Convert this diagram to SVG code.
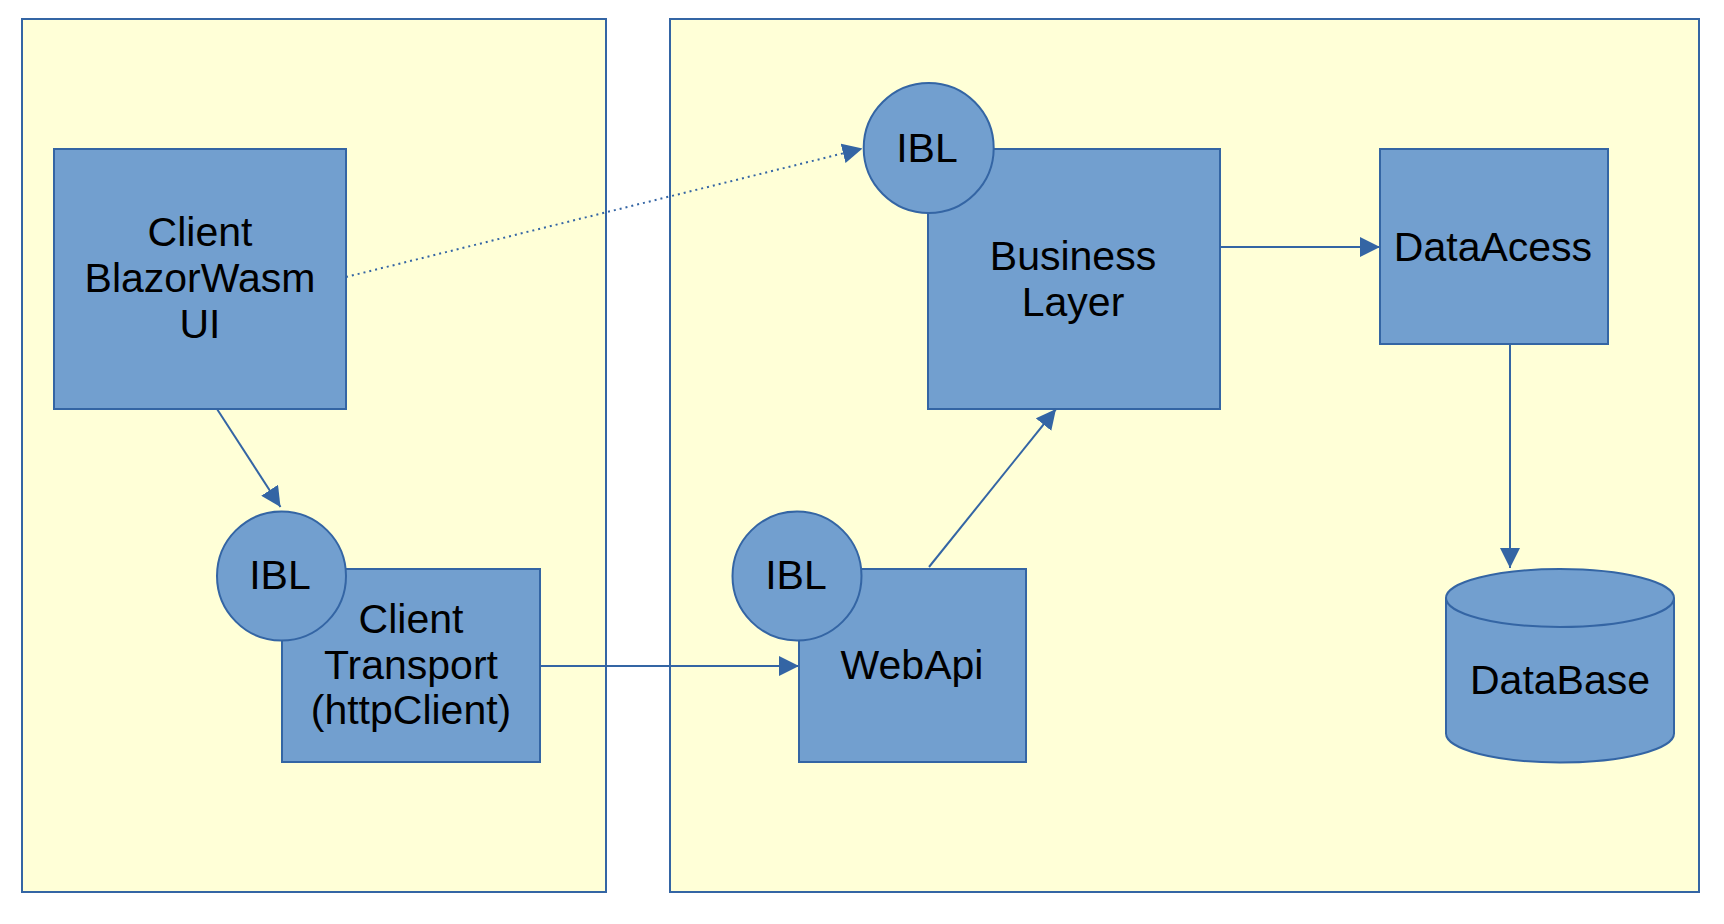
<svg xmlns="http://www.w3.org/2000/svg" width="1724" height="924" viewBox="0 0 1724 924">
<style>
.cont{fill:#ffffd7;stroke:#3465a4;stroke-width:2}
.box{fill:#729fcf;stroke:#3465a4;stroke-width:2}
.lbl{font-family:"Liberation Sans",Arial,sans-serif;font-size:41px;fill:#000;text-anchor:middle}
.con{fill:none;stroke:#3465a4;stroke-width:2}
.dot{fill:none;stroke:#3465a4;stroke-width:2;stroke-dasharray:2 4}
</style>
<defs>
<marker id="ah" viewBox="0 0 20 20" refX="20" refY="10" markerWidth="20" markerHeight="20" markerUnits="userSpaceOnUse" orient="auto">
<path d="M0,0 L20,10 L0,20 Z" fill="#3465a4"/>
</marker>
</defs>
<rect width="1724" height="924" fill="#ffffff"/>
<g id="client-container"><rect class="cont" x="22" y="19" width="584" height="873"/></g>
<g id="server-container"><rect class="cont" x="670" y="19" width="1029" height="873"/></g>

<g id="client-ui">
<rect class="box" x="54" y="149" width="292" height="260"/>
<text class="lbl" x="200" y="246">Client</text>
<text class="lbl" x="200" y="292">BlazorWasm</text>
<text class="lbl" x="200" y="338">UI</text>
</g>

<g id="client-transport">
<rect class="box" x="282" y="569" width="258" height="193"/>
<text class="lbl" x="411" y="633">Client</text>
<text class="lbl" x="411" y="679">Transport</text>
<text class="lbl" x="411" y="724">(httpClient)</text>
</g>
<g id="ibl-client">
<circle class="box" cx="281.5" cy="576" r="64.5"/>
<text class="lbl" x="280" y="589">IBL</text>
</g>

<g id="webapi">
<rect class="box" x="799" y="569" width="227" height="193"/>
<text class="lbl" x="912" y="679">WebApi</text>
</g>
<g id="ibl-webapi">
<circle class="box" cx="797" cy="576" r="64.5"/>
<text class="lbl" x="796" y="589">IBL</text>
</g>

<g id="business-layer">
<rect class="box" x="928" y="149" width="292" height="260"/>
<text class="lbl" x="1073" y="270">Business</text>
<text class="lbl" x="1073" y="316">Layer</text>
</g>
<g id="ibl-business">
<circle class="box" cx="928.7" cy="148" r="65"/>
<text class="lbl" x="927" y="162">IBL</text>
</g>

<g id="data-access">
<rect class="box" x="1380" y="149" width="228" height="195"/>
<text class="lbl" x="1493" y="261">DataAcess</text>
</g>

<g id="database">
<path class="box" d="M1446,598 A114,29 0 0 1 1674,598 L1674,733.5 A114,29 0 0 1 1446,733.5 Z"/>
<path class="con" d="M1446,598 A114,29 0 0 0 1674,598"/>
<text class="lbl" x="1560" y="694">DataBase</text>
</g>

<g id="connectors">
<line class="con" x1="217" y1="409" x2="280.5" y2="507" marker-end="url(#ah)"/>
<line class="con" x1="540" y1="666" x2="799" y2="666" marker-end="url(#ah)"/>
<line class="con" x1="929" y1="567" x2="1056" y2="409" marker-end="url(#ah)"/>
<line class="con" x1="1220" y1="247" x2="1380" y2="247" marker-end="url(#ah)"/>
<line class="con" x1="1510" y1="344" x2="1510" y2="568" marker-end="url(#ah)"/>
<line class="dot" x1="346" y1="277" x2="862.5" y2="148.5" marker-end="url(#ah)"/>
</g>
</svg>
